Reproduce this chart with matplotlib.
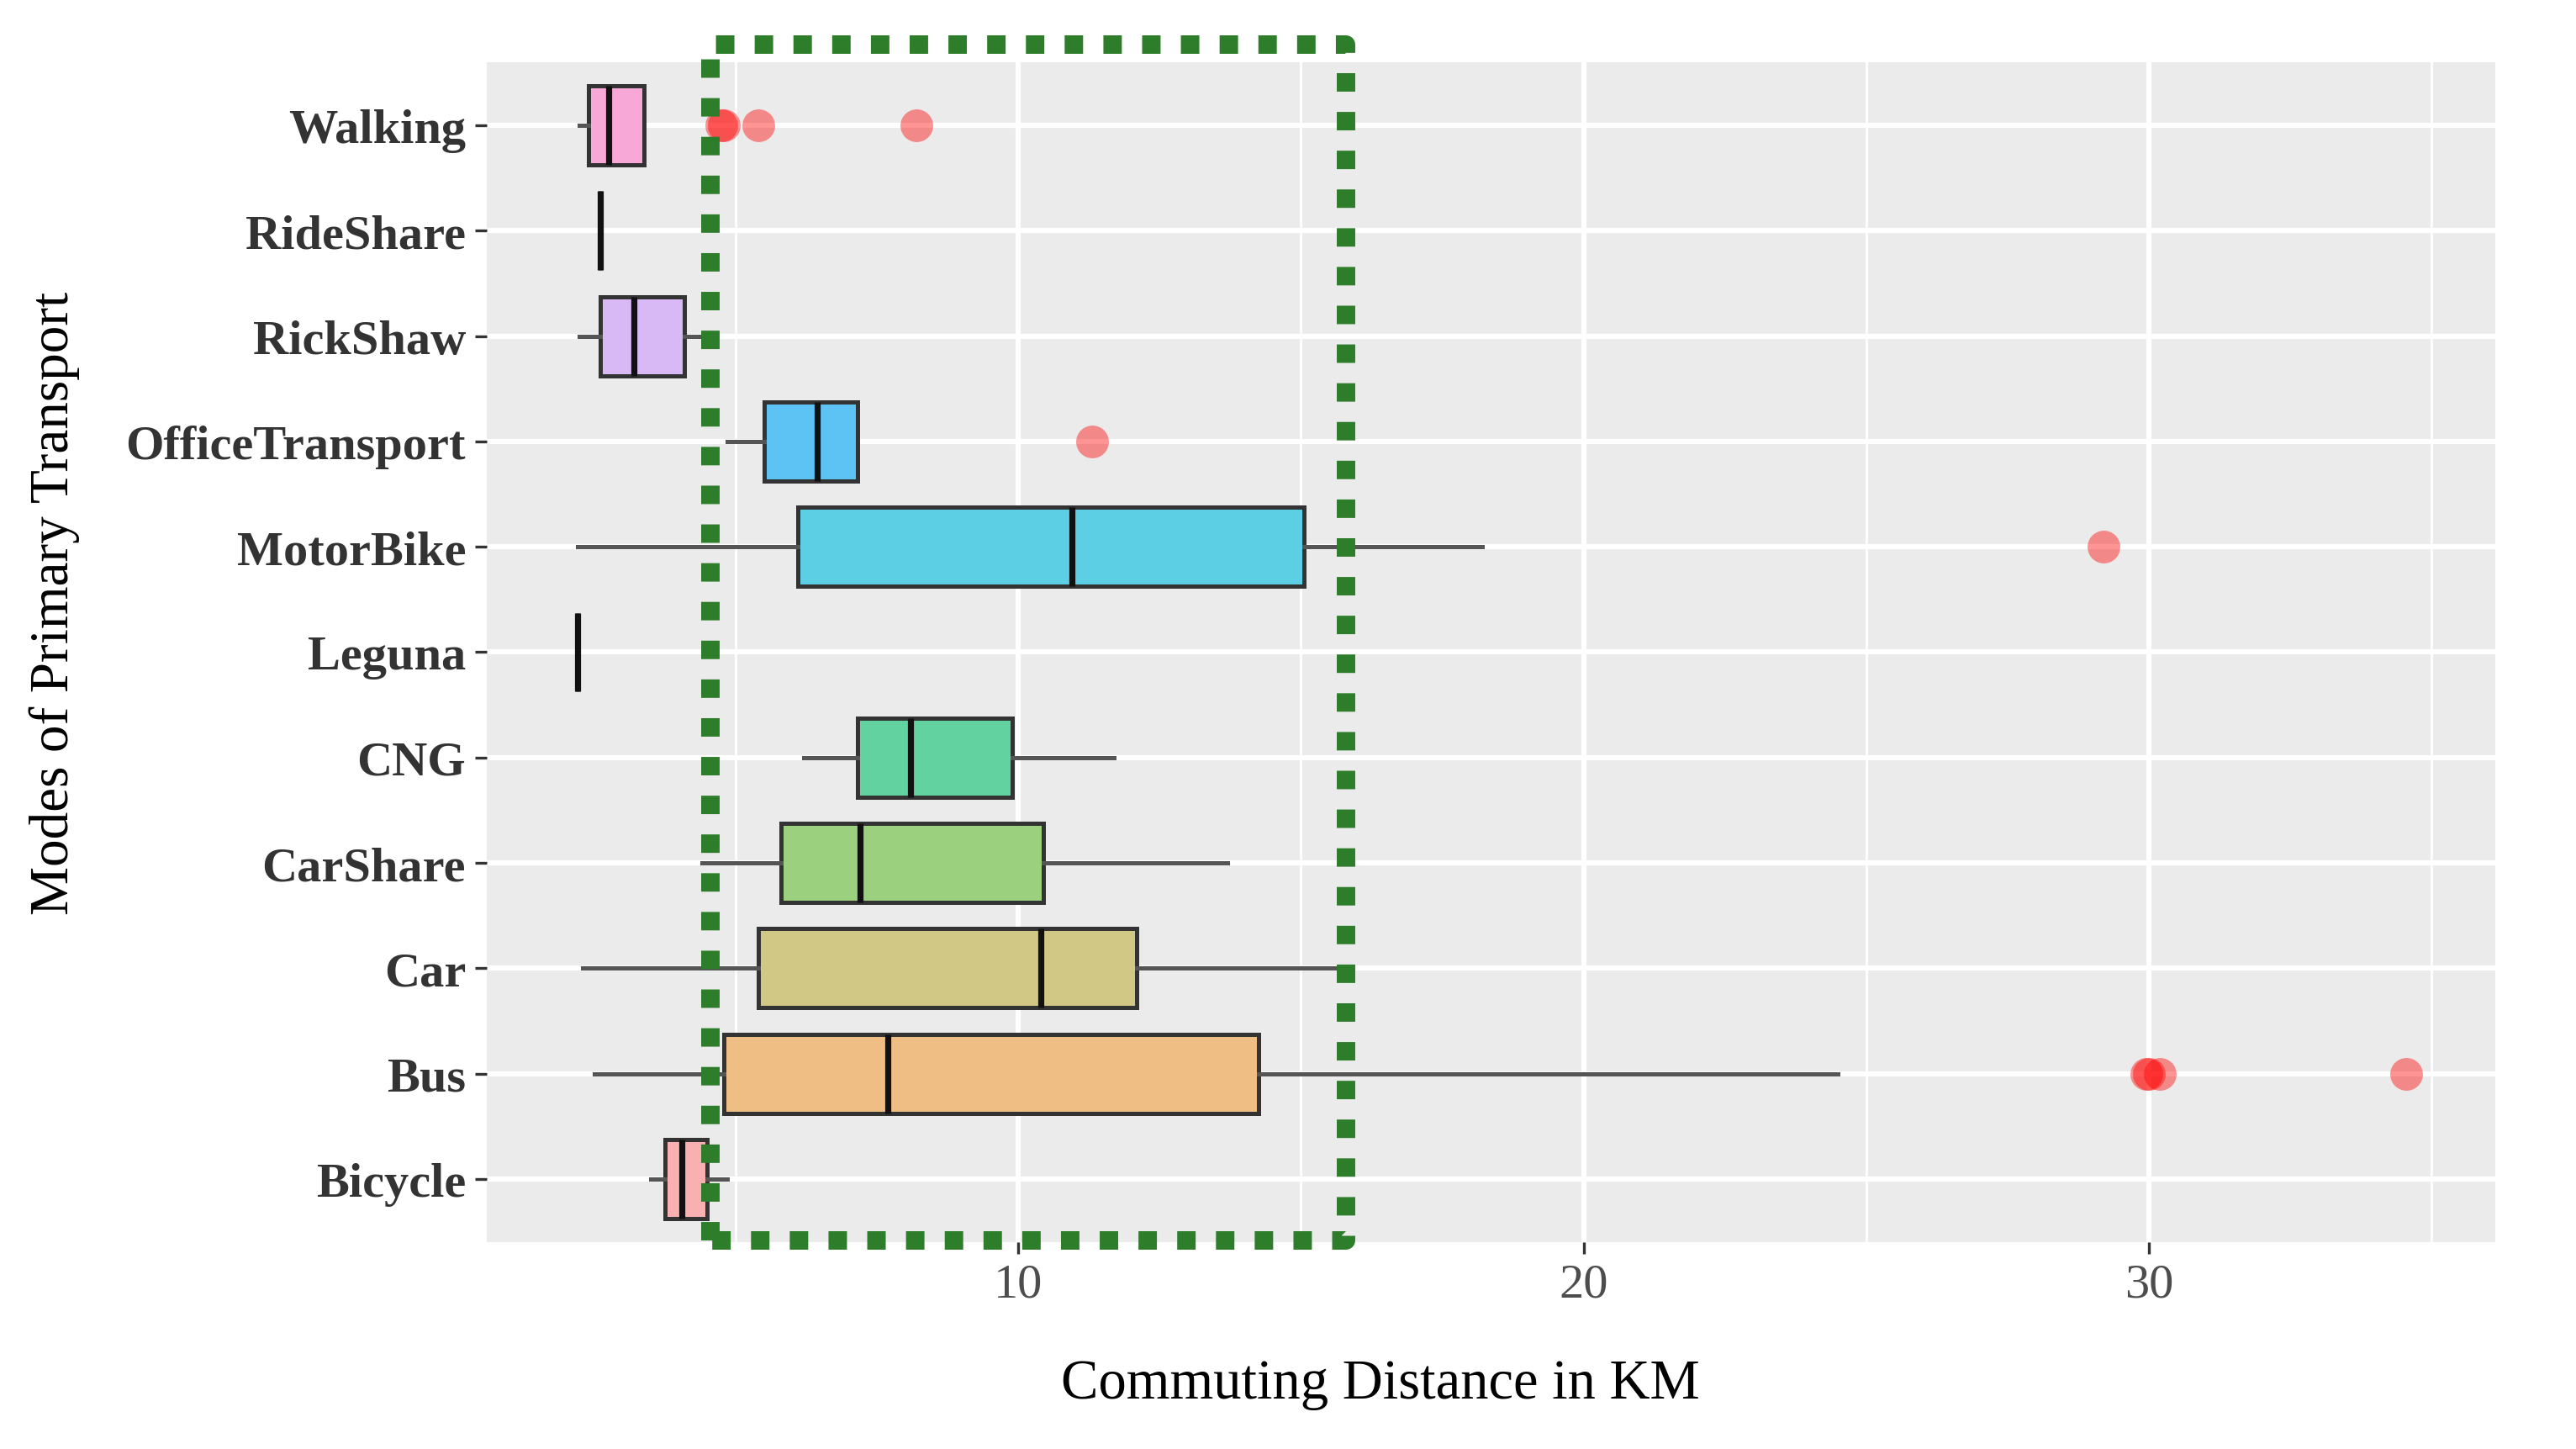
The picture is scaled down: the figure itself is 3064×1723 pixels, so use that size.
import matplotlib
matplotlib.use("Agg")
import matplotlib.pyplot as plt
import matplotlib.transforms as mtransforms
from matplotlib.lines import Line2D

# modes, bottom to top
modes = ["Bicycle", "Bus", "Car", "CarShare", "CNG", "Leguna",
         "MotorBike", "OfficeTransport", "RickShaw", "RideShare", "Walking"]

# five-number summaries (km)
whis_lo = [3.5, 2.5, 2.3, 4.4, 6.2, 2.2, 2.2, 4.85, 2.23, 2.6, 2.23]
q1      = [3.75, 4.8, 5.4, 5.8, 7.15, 2.2, 6.1, 5.5, 2.6, 2.6, 2.4]
median  = [4.05, 7.7, 10.4, 7.2, 8.1, 2.2, 10.95, 6.45, 3.2, 2.6, 2.75]
q3      = [4.5, 14.25, 12.1, 10.45, 9.9, 2.2, 15.05, 7.15, 4.1, 2.6, 3.38]
whis_hi = [4.85, 24.5, 15.8, 13.7, 11.7, 2.2, 18.2, 7.15, 4.38, 2.6, 3.38]
outliers = [[], [29.95, 30.0, 30.2, 34.55], [], [], [], [],
            [29.2], [11.3], [], [], [4.75, 4.8, 5.4, 8.2]]

fills = ["#F8B0B0", "#EEBE84", "#D2C886", "#9BD07E", "#62D3A0", "#5FD2C4",
         "#5CCFE5", "#5DC2F4", "#D9B8F6", "#F4A8EE", "#F8A8D6"]

# highlighted range (km)
box_lo, box_hi = 4.55, 15.8

plt.rcParams["font.family"] = ["Liberation Serif", "DejaVu Serif"]

fig = plt.figure(figsize=(15.32, 8.62), dpi=200)
ax = fig.add_axes([0.189, 0.1427, 0.7797, 0.8138])
ax.set_facecolor("#EBEBEB")

stats = []
for i in range(len(modes)):
    stats.append(dict(med=median[i], q1=q1[i], q3=q3[i],
                      whislo=whis_lo[i], whishi=whis_hi[i],
                      fliers=outliers[i], label=modes[i]))

pos = list(range(1, len(modes) + 1))
bp = ax.bxp(stats, positions=pos, widths=0.75, orientation="horizontal",
            patch_artist=True, showcaps=False, zorder=3,
            boxprops=dict(edgecolor="#333333", linewidth=1.8),
            whiskerprops=dict(color="#555555", linewidth=1.8),
            medianprops=dict(color="#111111", linewidth=2.6),
            flierprops=dict(marker="o", markersize=14, markerfacecolor="red",
                            markeredgecolor="none", alpha=0.42))
for patch, c in zip(bp["boxes"], fills):
    patch.set_facecolor(c)

ax.set_xlim(0.6, 36.13)
ax.set_ylim(0.4, len(modes) + 0.6)
ax.set_xticks([10, 20, 30])
ax.set_xticks([5, 15, 25, 35], minor=True)
ax.set_yticks(pos)
ax.set_yticklabels(modes, fontsize=21, fontweight="bold", color="#333333")
ax.tick_params(axis="x", labelsize=21, labelcolor="#4D4D4D", color="#333333",
               length=5, width=1.2, pad=4)
ax.tick_params(axis="x", which="minor", length=0)
ax.tick_params(axis="y", color="#333333", length=5, width=1.2, pad=4)
ax.grid(which="major", color="white", linewidth=2.2, zorder=0)
ax.grid(which="minor", axis="x", color="white", linewidth=1.0, zorder=0)
ax.set_axisbelow(True)
for s in ax.spines.values():
    s.set_visible(False)

fig.text(0.5357, 0.0447, "Commuting Distance in KM", fontsize=24,
         ha="center", va="center", color="black")
fig.text(0.021, 0.584, "Modes of Primary Transport", fontsize=23.5,
         rotation=90, ha="center", va="center", color="black")

# green dotted highlight box
tr = mtransforms.blended_transform_factory(ax.transData, ax.transAxes)
rect = Line2D([box_lo, box_lo, box_hi, box_hi, box_lo],
              [0.0014, 1.015, 1.015, 0.0014, 0.0014],
              transform=tr, color="#2E7D2A", linewidth=7.9,
              linestyle=(0, (1, 1.1)), solid_capstyle="butt",
              dash_capstyle="butt", clip_on=False, zorder=6)
ax.add_line(rect)

fig.savefig("out.png", dpi=200, facecolor="white")
